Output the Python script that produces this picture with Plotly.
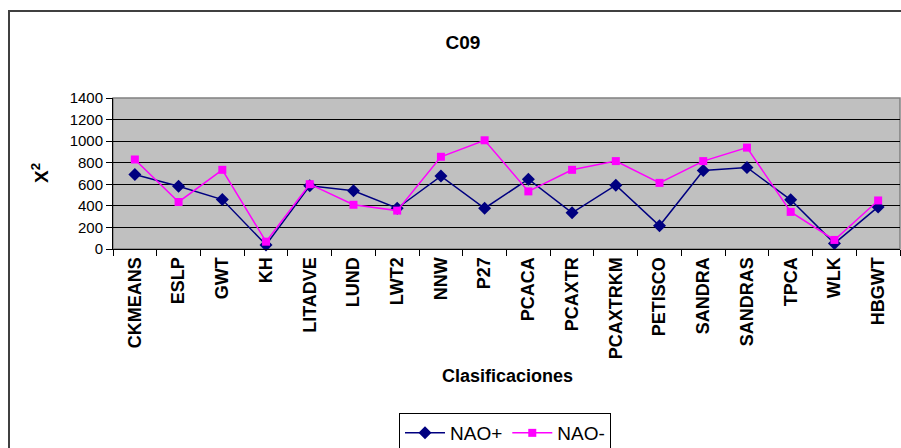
import plotly.graph_objects as go

categories = ["CKMEANS", "ESLP", "GWT", "KH", "LITADVE", "LUND", "LWT2", "NNW", "P27",
              "PCACA", "PCAXTR", "PCAXTRKM", "PETISCO", "SANDRA", "SANDRAS", "TPCA", "WLK", "HBGWT"]
nao_plus = [690, 582, 458, 38, 587, 540, 378, 676, 378, 647, 335, 592, 215, 728, 756, 456, 52, 390]
nao_minus = [830, 436, 734, 68, 601, 410, 356, 855, 1008, 534, 734, 815, 613, 815, 940, 344, 84, 450]

W, H = 901, 448
L, R, T, B = 113, 900, 98, 249
pw, ph = R - L, B - T

def px(x):
    return (x - L) / pw

def py(y):
    return (B - y) / ph

fig = go.Figure()
fig.add_trace(go.Scatter(
    x=categories, y=nao_plus, name="NAO+", mode="lines+markers",
    line=dict(color="#000080", width=1.5),
    marker=dict(symbol="diamond", size=10, color="#000080"),
    cliponaxis=False,
))
fig.add_trace(go.Scatter(
    x=categories, y=nao_minus, name="NAO-", mode="lines+markers",
    line=dict(color="#FF00FF", width=1.5),
    marker=dict(symbol="square", size=8, color="#FF00FF"),
    cliponaxis=False,
))

font = "Arial, Liberation Sans, sans-serif"

fig.update_layout(
    width=W, height=H,
    margin=dict(l=L, r=W - R, t=T, b=H - B, autoexpand=False),
    paper_bgcolor="white",
    plot_bgcolor="#C0C0C0",
    font=dict(family=font, color="black"),
    showlegend=True,
    title=dict(text="<b>C09</b>", x=463 / W, xanchor="center", y=1 - 42 / H,
               yanchor="middle", yref="container", font=dict(size=19, family=font)),
    legend=dict(orientation="h", x=px(505), xanchor="center", y=py(413), yanchor="top",
                bgcolor="white", bordercolor="black", borderwidth=1,
                font=dict(size=19, family=font), itemwidth=40,
                tracegroupgap=0),
    xaxis=dict(
        type="category", showgrid=False, tickson="boundaries", automargin=False,
        ticks="outside", ticklen=6, tickcolor="black", tickwidth=1,
        tickangle=-90, tickfont=dict(size=18, family=font),
        showline=True, linecolor="black", linewidth=1,
        range=[-0.5, len(categories) - 0.5], fixedrange=True,
    ),
    yaxis=dict(
        range=[0, 1400], dtick=200, showgrid=True, gridcolor="black", gridwidth=1,
        automargin=False,
        ticks="outside", ticklen=6, tickcolor="black", tickfont=dict(size=15, family=font),
        showline=True, linecolor="black", linewidth=1, zeroline=False,
    ),
    shapes=[
        dict(type="rect", xref="paper", yref="paper", x0=0, x1=1, y0=0, y1=1,
             line=dict(color="#808080", width=1.5), layer="below"),
        dict(type="rect", xref="paper", yref="paper", x0=px(9), x1=px(960), y0=py(520), y1=py(11),
             line=dict(color="#404040", width=2)),
    ],
    annotations=[
        dict(text="<b>Clasificaciones</b>", xref="paper", yref="paper", x=px(507), y=py(376),
             xanchor="center", yanchor="middle", showarrow=False, font=dict(size=18, family=font)),
        dict(text="<b>X<sup>2</sup></b>", xref="paper", yref="paper", x=px(40), y=py(173),
             xanchor="center", yanchor="middle", textangle=-90, showarrow=False,
             font=dict(size=19, family=font)),
    ],
)
fig.update_xaxes(tickprefix="<b>", ticksuffix="</b>")

post = "document.body.style.margin='0';document.body.style.padding='0';document.body.style.overflow='hidden';"
fig.write_html("out.html", post_script=post, config={"displayModeBar": False})
